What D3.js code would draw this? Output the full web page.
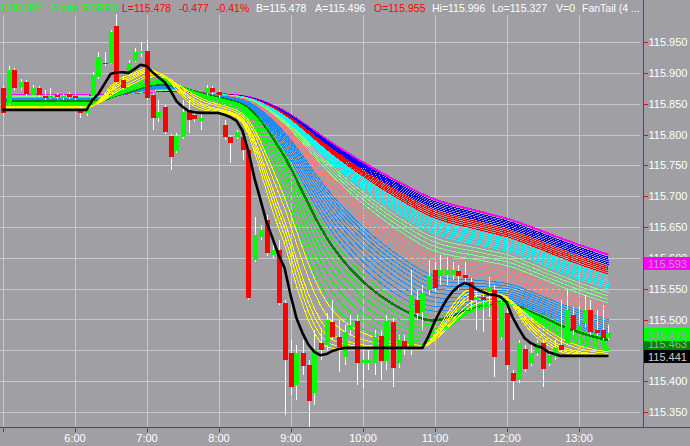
<!DOCTYPE html>
<html><head><meta charset="utf-8">
<script src="https://cdn.jsdelivr.net/npm/d3@7"></script>
<style>html,body{margin:0;padding:0;background:#a0a0a4;overflow:hidden}svg{display:block}</style>
</head><body><svg id="c" width="690" height="446"></svg>
<script>
// ---------------- DATA ----------------
const barStartMinutes = 300;   // 05:00
const barStepMinutes = 5;      // 5-minute bars
const open = [115.875,115.851,115.905,115.877,115.885,115.864,115.875,115.862,115.861,115.864,115.861,115.866,115.862,115.840,115.835,
115.862,115.893,115.916,115.916,115.976,115.888,115.901,115.919,115.934,115.935,115.864,115.827,115.845,115.798,115.773,
115.796,115.837,115.832,115.822,115.867,115.875,115.869,115.815,115.796,115.796,115.796,115.775,115.597,115.634,115.661,
115.605,115.613,115.527,115.446,115.394,115.446,115.426,115.381,115.462,115.459,115.496,115.472,115.439,115.483,115.498,
115.430,115.430,115.430,115.473,115.433,115.496,115.430,115.465,115.451,115.532,115.512,115.548,115.580,115.571,115.572,
115.572,115.579,115.572,115.561,115.532,115.537,115.545,115.548,115.472,115.511,115.413,115.402,115.452,115.430,115.446,
115.462,115.430,115.439,115.459,115.462,115.507,115.483,115.494,115.515,115.483,115.483,115.470];
const high = [115.879,115.911,115.908,115.890,115.888,115.880,115.879,115.872,115.875,115.867,115.866,115.869,115.866,115.846,115.846,
115.901,115.934,115.934,115.970,115.996,115.895,115.921,115.940,115.950,115.953,115.869,115.856,115.848,115.801,115.802,
115.856,115.856,115.835,115.835,115.880,115.879,115.872,115.824,115.799,115.807,115.799,115.778,115.666,115.653,115.669,
115.621,115.629,115.532,115.467,115.459,115.467,115.434,115.483,115.483,115.511,115.532,115.499,115.491,115.507,115.507,
115.459,115.451,115.483,115.483,115.507,115.502,115.475,115.475,115.580,115.548,115.556,115.597,115.593,115.605,115.601,
115.593,115.588,115.593,115.567,115.548,115.540,115.569,115.556,115.532,115.515,115.418,115.467,115.459,115.464,115.467,
115.467,115.447,115.467,115.532,115.548,115.520,115.522,115.540,115.532,115.515,115.524,115.491];
const low = [115.832,115.848,115.872,115.872,115.862,115.861,115.861,115.856,115.858,115.858,115.856,115.858,115.856,115.827,115.830,
115.859,115.890,115.911,115.914,115.882,115.872,115.897,115.918,115.926,115.856,115.807,115.820,115.801,115.742,115.770,
115.793,115.802,115.820,115.807,115.862,115.864,115.859,115.791,115.754,115.793,115.759,115.532,115.593,115.629,115.603,
115.600,115.524,115.345,115.378,115.369,115.410,115.327,115.361,115.434,115.451,115.467,115.415,115.426,115.475,115.394,
115.389,115.418,115.410,115.402,115.418,115.391,115.421,115.442,115.442,115.499,115.483,115.540,115.545,115.556,115.556,
115.564,115.548,115.559,115.515,115.483,115.480,115.504,115.407,115.467,115.418,115.369,115.397,115.415,115.425,115.441,
115.391,115.425,115.434,115.447,115.459,115.475,115.483,115.488,115.475,115.473,115.467,115.467];
const close = [115.835,115.905,115.875,115.885,115.866,115.875,115.864,115.861,115.862,115.861,115.862,115.861,115.859,115.835,115.840,
115.897,115.926,115.914,115.966,115.885,115.875,115.916,115.934,115.935,115.859,115.827,115.837,115.804,115.764,115.798,
115.837,115.824,115.825,115.827,115.875,115.869,115.864,115.796,115.786,115.804,115.775,115.535,115.637,115.645,115.608,
115.613,115.527,115.434,115.391,115.446,115.425,115.368,115.452,115.451,115.499,115.472,115.455,115.480,115.491,115.430,
115.434,115.434,115.472,115.433,115.498,115.421,115.467,115.452,115.540,115.511,115.543,115.571,115.551,115.580,115.580,
115.580,115.571,115.567,115.532,115.537,115.532,115.553,115.439,115.527,115.426,115.400,115.462,115.420,115.446,115.462,
115.420,115.442,115.454,115.451,115.515,115.483,115.491,115.515,115.480,115.478,115.470,115.478];
// FanTail driving series (fastest, black line)
const fanSource = [115.840,115.840,115.840,115.840,115.840,115.840,115.840,115.840,115.840,115.840,115.840,115.840,115.840,115.840,115.840,
115.856,115.866,115.882,115.898,115.901,115.901,115.900,115.906,115.913,115.911,115.901,115.893,115.885,115.871,115.854,
115.845,115.838,115.836,115.835,115.835,115.835,115.835,115.832,115.828,115.822,115.806,115.772,115.729,115.694,115.658,
115.632,115.605,115.584,115.540,115.502,115.478,115.459,115.447,115.442,115.444,115.449,115.452,115.454,115.454,115.454,
115.454,115.454,115.454,115.454,115.454,115.454,115.454,115.454,115.454,115.454,115.454,115.473,115.496,115.515,115.532,
115.545,115.554,115.559,115.556,115.549,115.545,115.541,115.540,115.537,115.528,115.504,115.486,115.470,115.462,115.457,
115.454,115.447,115.444,115.441,115.441,115.441,115.441,115.441,115.441,115.441,115.441,115.441];
const fanStartBar = 14;        // fan held until this bar
const fanPriorLevel = 115.868; // indicator state before the chart
const fanPriorBars = 9;
// FanTail EMA periods by colour band
const periodsMagenta = [105];
const periodsBlue = [94,96,98,100,102];
const periodsRed = [84,86,88,90,92];
const periodsCyan = [70,72,74,76,78,80,82];
const periodsPaleGreen = [58,61,64,67];
const periodsSalmon = [46,48,50,52,54,56];
const periodsDodger = [28,30,32,34,36,38,40,42,44];
const periodsLime2 = [26];
const periodsDarkGreen = [24];
const periodsLime = [12,14,16,18,20,22];
const periodsYellow = [4,5,6,7,9,11];

const priceTicks = [115.35,115.40,115.45,115.50,115.55,115.60,115.65,115.70,115.75,115.80,115.85,115.90,115.95];
const priceLabels = ["115.350","115.400","","115.500","115.550","115.600","115.650","115.700","115.750","115.800","115.850","115.900","115.950"];
const hourTicks = [5,6,7,8,9,10,11,12,13];
const hourLabels = ["","6:00","7:00","8:00","9:00","10:00","11:00","12:00","13:00"];
const tagValues = [115.593,115.463,115.478,115.441];
const headerTexts = ["USDJPY - 5 min","FOREX","L=115.478","-0.477","-0.41%","B=115.478","A=115.496","O=115.955","Hi=115.996","Lo=115.327","V=0","FanTail (4 ..."];

// ---------------- DRAW ----------------
const svg = d3.select("#c");
const FONT = "'Liberation Sans', Arial, sans-serif";
const FS = 11;
const plotRight = 643, plotTop = 15, plotBottom = 427;
const x = d3.scaleLinear().domain([300, 780]).range([2.5, 578.5]);
const y = d3.scaleLinear().domain([115.35, 115.95]).range([412, 42]);
const barX = k => x(barStartMinutes + barStepMinutes * k);

svg.append("rect").attr("width",690).attr("height",446).attr("fill","#a0a0a4");

svg.append("defs").append("clipPath").attr("id","plot")
  .append("rect").attr("x",0).attr("y",plotTop).attr("width",plotRight).attr("height",plotBottom-plotTop);

// grid
const grid = svg.append("g").attr("stroke","#c8c8c8").attr("stroke-width",1).attr("shape-rendering","crispEdges");
priceTicks.forEach(v => grid.append("line").attr("x1",0).attr("x2",640)
  .attr("y1",Math.round(y(v))+0.5).attr("y2",Math.round(y(v))+0.5));
hourTicks.forEach(h => grid.append("line").attr("y1",plotTop).attr("y2",plotBottom)
  .attr("x1",Math.round(x(h*60))+0.5).attr("x2",Math.round(x(h*60))+0.5));

const plot = svg.append("g").attr("clip-path","url(#plot)");

// fan lines (exponential averages of the driving series)
function emaSeries(period){
  const a = 2/(period+1);
  const s0 = fanSource[fanStartBar];
  let e = s0 + (fanPriorLevel - s0) * Math.pow(1-a, fanPriorBars);
  return fanSource.map((s,k) => { if (k > fanStartBar) e = e + a*(s - e); return e; });
}
const line = d3.line().x((d,k)=>barX(k)).y(d=>y(d));
const bands = [
  [periodsMagenta,"#ff00ff",2],
  [periodsBlue,"#0000ff",1],
  [periodsRed,"#ff0000",1],
  [periodsCyan,"#00ffff",1],
  [periodsPaleGreen,"#80ff80",1],
  [periodsSalmon,"#f08080",1],
  [periodsDodger,"#1e8cff",1],
  [periodsLime2,"#00ff00",1],
  [periodsDarkGreen,"#008000",2.5],
  [periodsLime,"#00ff00",1],
  [periodsYellow,"#ffff00",1]
];
const fanG = plot.append("g").attr("fill","none");
bands.forEach(([periods,color,w]) => {
  periods.slice().sort((a,b)=>b-a).forEach(p => {
    fanG.append("path").datum(emaSeries(p)).attr("d",line)
      .attr("stroke",color).attr("stroke-width",w).attr("shape-rendering","crispEdges");
  });
});

// candles
const candles = plot.append("g");
open.forEach((o,k) => {
  const cx = Math.round(barX(k));
  candles.append("line").attr("x1",cx+0.5).attr("x2",cx+0.5)
    .attr("y1",y(high[k])).attr("y2",y(low[k])).attr("stroke","#ffffff").attr("stroke-width",1)
    .attr("shape-rendering","crispEdges");
  const up = close[k] >= o;
  const top = y(Math.max(o,close[k])), bot = y(Math.min(o,close[k]));
  candles.append("rect").attr("x",cx-2).attr("width",5)
    .attr("y",top).attr("height",Math.max(1.5,bot-top))
    .attr("fill", up ? "#00ff00" : "#ff0000").attr("shape-rendering","crispEdges");
});

// black fast line
plot.append("path").datum(fanSource).attr("d",line).attr("fill","none")
  .attr("stroke","#000000").attr("stroke-width",2.6).attr("stroke-linejoin","round");

// day high / low markers
const hiK = d3.maxIndex(high), loK = d3.minIndex(low);
svg.append("line").attr("x1",Math.round(barX(hiK))+0.5).attr("x2",Math.round(barX(hiK))+0.5)
  .attr("y1",14).attr("y2",20).attr("stroke","#fff").attr("shape-rendering","crispEdges");
svg.append("line").attr("x1",Math.round(barX(loK))+0.5).attr("x2",Math.round(barX(loK))+0.5)
  .attr("y1",420).attr("y2",427).attr("stroke","#fff").attr("shape-rendering","crispEdges");

// axes
const yAxis = d3.axisRight(y).tickValues(priceTicks).tickSize(4).tickPadding(1)
  .tickFormat((d,i)=>priceLabels[i]);
const yg = svg.append("g").attr("transform",`translate(${plotRight+0.5},0)`).call(yAxis);
yg.select(".domain").remove();
yg.selectAll(".tick line").attr("stroke","#ff0000").attr("shape-rendering","crispEdges");
yg.selectAll(".tick text").attr("fill","#ffffff").attr("font-family",FONT).attr("font-size",FS);

const xAxis = d3.axisBottom(x).tickValues(hourTicks.map(h=>h*60)).tickSize(4).tickPadding(3)
  .tickFormat((d,i)=>hourLabels[i]);
const xg = svg.append("g").attr("transform",`translate(0,${plotBottom+0.5})`).call(xAxis);
xg.select(".domain").remove();
xg.selectAll(".tick line").attr("stroke","#ff0000").attr("shape-rendering","crispEdges");
xg.selectAll(".tick text").attr("fill","#ffffff").attr("font-family",FONT).attr("font-size",FS);

svg.append("line").attr("x1",0).attr("x2",690).attr("y1",plotBottom+0.5).attr("y2",plotBottom+0.5)
  .attr("stroke","#ff0000").attr("shape-rendering","crispEdges");
svg.append("line").attr("x1",plotRight+0.5).attr("x2",plotRight+0.5).attr("y1",0).attr("y2",plotBottom)
  .attr("stroke","#ff0000").attr("shape-rendering","crispEdges");

// price tags
const tagFill = ["#ff00ff","#008000","#00ff00","#000000"];
const tagText = ["#b8a4b8","#a0b0a0","#a0a0a4","#d0d0d0"];
tagValues.forEach((v,i) => {
  const top = Math.round(y(v)-5.5);
  svg.append("rect").attr("x",plotRight+1).attr("y",top).attr("width",690-plotRight-1).attr("height",13)
    .attr("fill",tagFill[i]).attr("shape-rendering","crispEdges");
  svg.append("text").attr("x",plotRight+5).attr("y",top+10.5).text(d3.format(".3f")(v))
    .attr("fill",tagText[i]).attr("font-family",FONT).attr("font-size",FS);
});

// header
const headerX = [1,82,122,179,216,256,315,374,432,492,556,582];
const headerColor = ["#00ff00","#00ff00","#ff0000","#ff0000","#ff0000","#ffffff","#ffffff","#ff0000","#ffffff","#ffffff","#ffffff","#ffffff"];
headerTexts.forEach((t,i) => svg.append("text").attr("x",headerX[i]).attr("y",12).text(t)
  .attr("fill",headerColor[i]).attr("font-family",FONT).attr("font-size",10.5));
</script>
</body></html>
